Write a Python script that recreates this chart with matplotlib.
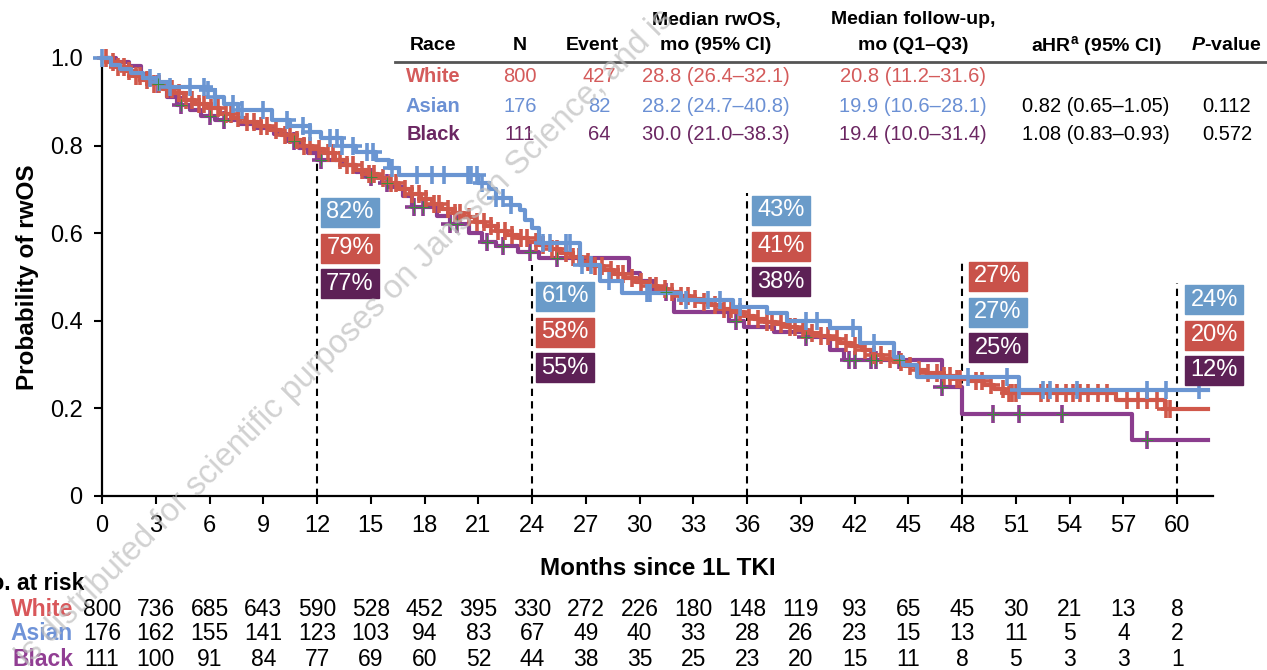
import numpy as np
import matplotlib
matplotlib.use('Agg')
from matplotlib import pyplot as plt
from matplotlib.patches import Rectangle
from matplotlib.transforms import blended_transform_factory

plt.rcParams['font.family'] = ['Liberation Sans', 'DejaVu Sans']
plt.rcParams['mathtext.fontset'] = 'custom'
plt.rcParams['mathtext.rm'] = 'Liberation Sans:bold'
plt.rcParams['mathtext.it'] = 'Liberation Sans:italic:bold'

# ---------------- data ----------------
x_ticks = list(range(0, 61, 3))
end_time = 61.7

# Asian KM curve (step times / survival after step)
asian_t = [0, 0.5, 1.0, 1.6, 2.3, 3.0, 3.7, 5.9, 6.3, 6.8, 7.6, 9.5, 10.5, 11.6, 12.2,
           13.4, 14.2, 15.3, 16.0, 16.6, 21.0, 21.6, 22.0, 22.8, 23.3, 23.6, 24.0, 24.4,
           26.7, 27.8, 29.0, 32.3, 35.2, 37.1, 38.2, 40.6, 42.3, 44.2, 44.7, 45.5, 51.2]
asian_s = [1.0, 0.985, 0.975, 0.965, 0.955, 0.945, 0.934, 0.927, 0.912, 0.895, 0.881, 0.858,
           0.845, 0.83, 0.818, 0.80, 0.785, 0.768, 0.749, 0.733, 0.715, 0.70, 0.68, 0.665,
           0.653, 0.63, 0.612, 0.578, 0.527, 0.49, 0.463, 0.447, 0.432, 0.418, 0.40, 0.384,
           0.349, 0.318, 0.30, 0.272, 0.242]
asian_cens = [0, 2.7, 3.2, 3.8, 4.9, 5.7, 5.9, 6.3, 7.3, 7.8, 9.0, 10.3, 11.2, 11.6, 12.7,
              13.1, 13.4, 14.0, 14.8, 15.1, 16.2, 17.6, 18.4, 19.1, 20.4, 20.6, 20.9, 21.2,
              22.0, 22.4, 22.8, 24.6, 25.0, 25.9, 26.1, 26.8, 27.3, 28.3, 30.4, 30.6, 32.6,
              33.8, 34.5, 35.6, 39.3, 39.9, 41.9, 43.1, 48.3, 50.5, 51.2, 52.5, 52.9, 54.4,
              58.3, 59.4, 61.2]

# White KM curve
white_t = [0, 0.4, 0.8, 1.3, 1.8, 2.3, 2.8, 3.4, 4.0, 4.6, 5.2, 5.9, 6.6, 7.3, 8.0, 8.7,
           9.4, 10.0, 10.6, 11.2, 11.8, 12.4, 13.0, 13.6, 14.2, 14.8, 15.4, 16.0, 16.6,
           17.2, 17.8, 18.4, 19.0, 19.6, 20.2, 20.8, 21.4, 22.0, 22.6, 23.2, 23.8, 24.4,
           25.0, 25.6, 26.2, 26.8, 27.4, 28.0, 28.6, 29.2, 29.8, 30.4, 31.0, 31.6, 32.2,
           32.8, 33.4, 34.0, 34.6, 35.2, 35.8, 36.4, 37.0, 37.6, 38.2, 38.8, 39.4, 40.0,
           40.6, 41.2, 41.8, 42.4, 43.0, 43.6, 44.2, 44.8, 45.4, 46.0, 46.8, 47.6, 48.4,
           49.2, 49.8, 50.4, 56.6, 59.3]
white_s = [1.0, 0.99, 0.98, 0.97, 0.96, 0.95, 0.94, 0.93, 0.92, 0.905, 0.895, 0.885, 0.872,
           0.862, 0.853, 0.845, 0.836, 0.825, 0.812, 0.80, 0.792, 0.782, 0.768, 0.756, 0.745,
           0.735, 0.725, 0.715, 0.702, 0.69, 0.678, 0.667, 0.656, 0.646, 0.636, 0.626, 0.616,
           0.606, 0.596, 0.588, 0.58, 0.572, 0.563, 0.555, 0.545, 0.535, 0.525, 0.515, 0.506,
           0.497, 0.488, 0.48, 0.472, 0.465, 0.457, 0.45, 0.442, 0.435, 0.427, 0.419, 0.412,
           0.405, 0.398, 0.392, 0.386, 0.38, 0.373, 0.366, 0.358, 0.35, 0.342, 0.333, 0.323,
           0.313, 0.305, 0.296, 0.288, 0.28, 0.273, 0.268, 0.262, 0.254, 0.245, 0.236, 0.219,
           0.198]
white_cens = [0.2, 0.6, 0.9, 1.2, 1.5, 1.9, 2.1, 2.5, 2.9, 3.2, 3.6, 3.9, 4.3, 4.7, 5.0, 5.4,
              5.7, 6.1, 6.5, 6.9, 7.2, 7.6, 8.1, 8.5, 8.9, 9.2, 9.7, 10.2, 10.5, 10.9, 11.3,
              11.6, 12.1, 12.6, 12.9, 13.3, 13.7, 14.0, 14.5, 14.9, 15.2, 15.7, 16.1, 16.4,
              16.9, 17.3, 17.7, 18.1, 18.5, 18.8, 19.3, 19.7, 20.0, 20.5, 20.9, 21.3, 21.7,
              22.1, 22.5, 22.9, 23.4, 23.7, 24.2, 24.6, 25.1, 25.4, 25.9, 26.3, 26.6, 27.1,
              27.5, 27.9, 28.4, 28.8, 29.1, 29.6, 30.1, 30.6, 30.9, 31.4, 31.8, 32.3, 32.7,
              33.1, 33.6, 34.2, 34.7, 35.1, 35.6, 36.1, 36.6, 37.1, 37.4, 37.9, 38.4, 38.7,
              39.1, 39.6, 40.1, 40.5, 41.0, 41.5, 42.0, 42.6, 43.1, 43.5, 44.0, 44.6, 45.1,
              45.6, 46.1, 46.6, 47.0, 47.3, 47.7, 47.9, 48.8, 49.1, 49.6, 50.3, 50.6, 50.8,
              51.0, 52.4, 52.8, 53.3, 53.8, 54.2, 54.6, 55.0, 55.6, 56.1, 57.2, 57.8, 58.3,
              58.9, 59.4, 59.6]

# Black KM curve
black_t = [0, 0.8, 1.5, 2.2, 2.6, 3.1, 3.6, 4.2, 4.9, 5.5, 6.3, 7.7, 8.5, 9.6, 10.3, 11.0,
           11.5, 12.0, 13.4, 14.2, 14.8, 15.6, 16.0, 16.8, 17.3, 18.7, 19.4, 20.5, 21.2,
           22.0, 23.2, 24.4, 29.4, 30.0, 30.8, 31.9, 35.0, 35.8, 37.5, 39.2, 40.6, 41.4,
           46.9, 48.0, 57.5]
black_s = [1.0, 0.991, 0.982, 0.964, 0.955, 0.94, 0.91, 0.893, 0.881, 0.868, 0.858, 0.849,
           0.84, 0.827, 0.81, 0.795, 0.783, 0.767, 0.756, 0.74, 0.728, 0.715, 0.705, 0.685,
           0.66, 0.64, 0.62, 0.60, 0.58, 0.57, 0.556, 0.543, 0.51, 0.49, 0.465, 0.42, 0.40,
           0.385, 0.375, 0.363, 0.333, 0.31, 0.249, 0.187, 0.128]
black_cens = [3.1, 4.4, 6.0, 6.8, 10.7, 12.2, 15.0, 15.9, 17.4, 17.9, 19.4, 19.8, 21.5, 22.4,
              23.9, 25.4, 31.5, 35.4, 39.3, 41.7, 42.0, 42.9, 43.2, 44.5, 46.9, 49.7, 51.2,
              53.6, 58.3]

# landmark survival labels
landmarks = [12, 24, 36, 48, 60]
asian_pct = [82, 61, 43, 27, 24]
white_pct = [79, 58, 41, 27, 20]
black_pct = [77, 55, 38, 25, 12]

# numbers at risk
risk_white = [800, 736, 685, 643, 590, 528, 452, 395, 330, 272, 226, 180, 148, 119, 93, 65, 45, 30, 21, 13, 8]
risk_asian = [176, 162, 155, 141, 123, 103, 94, 83, 67, 49, 40, 33, 28, 26, 23, 15, 13, 11, 5, 4, 2]
risk_black = [111, 100, 91, 84, 77, 69, 60, 52, 44, 38, 35, 25, 23, 20, 15, 11, 8, 5, 3, 3, 1]

# summary table
races = ['White', 'Asian', 'Black']
n_pts = [800, 176, 111]
n_events = [427, 82, 64]
median_os = ['28.8 (26.4–32.1)', '28.2 (24.7–40.8)', '30.0 (21.0–38.3)']
median_fu = ['20.8 (11.2–31.6)', '19.9 (10.6–28.1)', '19.4 (10.0–31.4)']
ahr = ['', '0.82 (0.65–1.05)', '1.08 (0.83–0.93)']
p_vals = ['', '0.112', '0.572']

# ---------------- style ----------------
W, H = 1267, 670
line_col = {'White': '#D0584A', 'Asian': '#6A95D2', 'Black': '#8B3D8E'}
box_col = {'White': '#C9524A', 'Asian': '#6A9BC9', 'Black': '#5D2156'}
tab_col = {'White': '#D45B5B', 'Asian': '#6B90D4', 'Black': '#6B2762'}
risk_col = {'White': '#D9575A', 'Asian': '#6F93D8', 'Black': '#913E93'}

fig = plt.figure(figsize=(W / 100, H / 100), dpi=100)
ax = fig.add_axes([102 / W, 1 - 496 / H, (1213 - 102) / W, (496 - 58) / H])


def step_value(t, s, c):
    i = np.searchsorted(t, c, side='right') - 1
    return np.asarray(s)[i]


curves = [('Black', black_t, black_s, black_cens),
          ('White', white_t, white_s, white_cens),
          ('Asian', asian_t, asian_s, asian_cens)]
for name, t, s, cens in curves:
    tt = list(t) + [end_time]
    ss = list(s) + [s[-1]]
    ax.step(tt, ss, where='post', color=line_col[name], lw=3, zorder=3, clip_on=False)
    cy = step_value(t, s, cens)
    ax.plot(cens, cy, ls='none', marker='+', ms=13, mew=2.6, color=line_col[name],
            zorder=3, clip_on=False)
    if name == 'Black':
        ax.plot(cens, cy, ls='none', marker='+', ms=8, mew=0.7, color='#3C8C3C',
                zorder=3.1, clip_on=False)

ax.set_xlim(0, 62)
ax.set_ylim(0, 1.0)
ax.set_xticks(x_ticks)
ax.set_yticks([0, 0.2, 0.4, 0.6, 0.8, 1.0])
ax.set_yticklabels(['0', '0.2', '0.4', '0.6', '0.8', '1.0'])
for sp in ['top', 'right']:
    ax.spines[sp].set_visible(False)
for sp in ['left', 'bottom']:
    ax.spines[sp].set_linewidth(1.6)
ax.tick_params(length=6, width=1.5, labelsize=17, pad=8)
ax.set_xlabel('Months since 1L TKI', fontsize=17.5, fontweight='bold', labelpad=14)
ax.set_ylabel('Probability of rwOS', fontsize=17.5, fontweight='bold', labelpad=8)

# landmark dashed lines and percentage boxes
px_x = 17.917
dash_top = [0.76, 0.527, 0.692, 0.532, 0.486]
box_left = [321, 536, 752, 969, 1185]
box_top = [198, 282, 196, 262, 285]
box_order = [['Asian', 'White', 'Black'], ['Asian', 'White', 'Black'],
             ['Asian', 'White', 'Black'], ['White', 'Asian', 'Black'],
             ['Asian', 'White', 'Black']]
pct = {'Asian': asian_pct, 'White': white_pct, 'Black': black_pct}
for k, m in enumerate(landmarks):
    ax.plot([m, m], [0, dash_top[k]], color='black', lw=1.5, ls=(0, (3.5, 2.5)), zorder=2,
            clip_on=False)
    for j, name in enumerate(box_order[k]):
        left = (box_left[k] - 102) / px_x
        top_px = box_top[k] + j * 35.5
        bottom = (496 - top_px - 29) / 438
        ax.add_patch(Rectangle((left, bottom), 58 / px_x, 29 / 438, color=box_col[name],
                               zorder=5, clip_on=False))
        ax.text(left + 29 / px_x, bottom + 14.5 / 438, f'{pct[name][k]}%', color='white',
                fontsize=17, ha='center', va='center', zorder=6, clip_on=False)


def ft(x, y, s, **kw):
    fig.text(x / W, 1 - y / H, s, **kw)


# summary table
hdr = dict(fontsize=14, fontweight='bold', ha='center', va='center')
ft(716, 20, 'Median rwOS,', **hdr)
ft(913, 20, 'Median follow-up,', **hdr)
ft(433, 46, 'Race', **hdr)
ft(520, 46, 'N', **hdr)
ft(592, 46, 'Event', **hdr)
ft(716, 46, 'mo (95% CI)', **hdr)
ft(913, 46, 'mo (Q1–Q3)', **hdr)
ft(1096, 46, r'aHR$^{\mathrm{a}}$ (95% CI)', **hdr)
ft(1226, 46, r'$\mathit{P}$-value', **hdr)
fig.add_artist(plt.Line2D([395 / W, 1.0], [1 - 62 / H, 1 - 62 / H], color='#555555', lw=2))
row_y = [77, 106, 135]
for i, name in enumerate(races):
    c = tab_col[name]
    kw = dict(fontsize=14.5, ha='center', va='center', color=c)
    ft(433, row_y[i], name, fontweight='bold', **kw)
    ft(520, row_y[i], str(n_pts[i]), **kw)
    ft(599, row_y[i], str(n_events[i]), **kw)
    ft(716, row_y[i], median_os[i], **kw)
    ft(913, row_y[i], median_fu[i], **kw)
    kw['color'] = 'black'
    ft(1096, row_y[i], ahr[i], **kw)
    ft(1227, row_y[i], p_vals[i], **kw)

# numbers at risk
ft(-26, 583, 'No. at risk', fontsize=16.5, fontweight='bold', ha='left', va='center')
trans = blended_transform_factory(ax.transData, fig.transFigure)
risk = {'White': risk_white, 'Asian': risk_asian, 'Black': risk_black}
risk_y = [610, 634, 659]
for i, name in enumerate(races):
    ft(73, risk_y[i], name, fontsize=16.5, fontweight='bold', ha='right', va='center',
       color=risk_col[name])
    for m, v in zip(x_ticks, risk[name]):
        fig.text(m, 1 - risk_y[i] / H, str(v), transform=trans, fontsize=16.5,
                 ha='center', va='center')

# watermark
ft(345, 338, 'is distributed for scientific purposes on Janssen Science, and is',
   fontsize=23.5, color='#BDBDBD', alpha=0.7, rotation=45, ha='center', va='center',
   rotation_mode='anchor', zorder=10)

fig.savefig('out.png', dpi=100)
